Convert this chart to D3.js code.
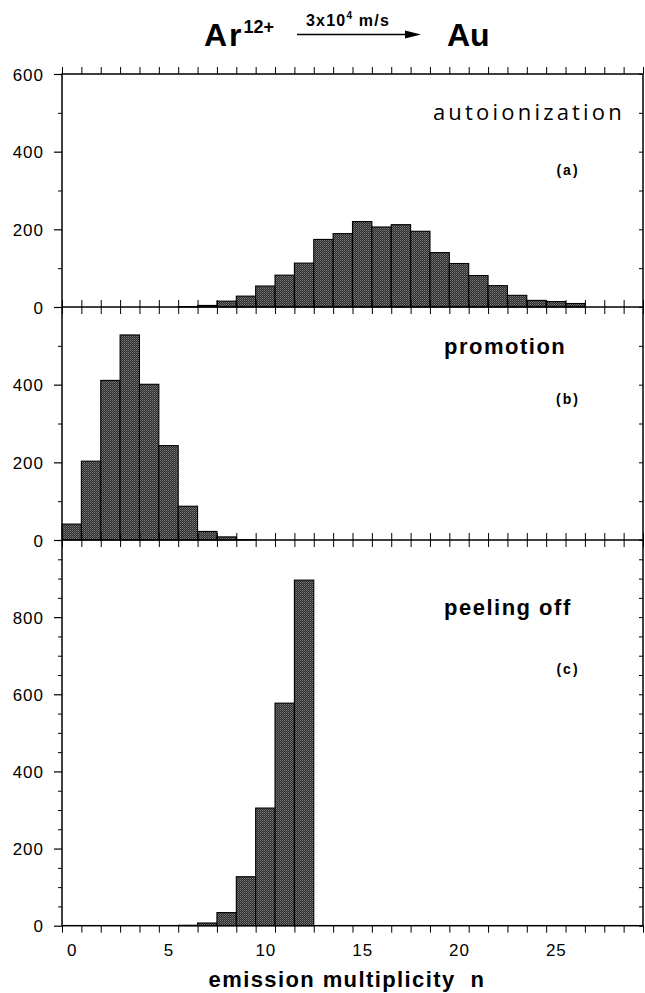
<!DOCTYPE html>
<html>
<head>
<meta charset="utf-8">
<script src="https://cdn.jsdelivr.net/npm/d3@7"></script>
<style>
  html, body { margin: 0; padding: 0; background: #fff; }
  svg { display: block; }
  text { font-family: "Liberation Sans", Arial, Helvetica, sans-serif; fill: #000; }
</style>
</head>
<body>
<script>
// ---------------- data ----------------
const multiplicity = d3.range(0, 30);              // emission multiplicity n
const autoionization = [0,0,0,0,0,0,1,4,15,28,54,82,113,174,189,220,206,212,195,140,112,81,55,30,17,14,9];
const promotion = [41,203,411,528,401,243,87,22,8,1];
const peelingOff = [0,0,0,0,0,0,1,7,34,127,305,577,896];
const xTickLabels = [0,5,10,15,20,25];
const panelNames = ["autoionization","promotion","peeling off"];
const panelTags = ["(a)","(b)","(c)"];
const yMaxes = [600, 600, 1000];
const yLabelTicks = [[0,200,400,600],[0,200,400],[0,200,400,600,800]];
const yMinorSteps = [100, 100, 50];

// ---------------- layout ----------------
const W = 645, H = 993;
const L = 62, R = 643;
const panelTops = [74, 307, 540];
const panelBottoms = [307, 540, 925.7];

const svg = d3.select("body").append("svg").attr("width", W).attr("height", H);

const defs = svg.append("defs");
const pat = defs.append("pattern").attr("id","stip").attr("patternUnits","userSpaceOnUse")
  .attr("width",2).attr("height",2);
pat.append("rect").attr("width",2).attr("height",2).attr("fill","#2e2e2e");
pat.append("rect").attr("x",0).attr("y",0).attr("width",1).attr("height",1).attr("fill","#7a7a7a");
pat.append("rect").attr("x",1).attr("y",1).attr("width",1).attr("height",1).attr("fill","#5a5a5a");

const x = d3.scaleLinear().domain([-0.5, 29.5]).range([L, R]);
const edges = d3.range(-0.5, 29.6, 1);

const series = [autoionization, promotion, peelingOff];

series.forEach((vals, i) => {
  const y = d3.scaleLinear().domain([0, yMaxes[i]]).range([panelBottoms[i], panelTops[i]]);
  const g = svg.append("g");
  const data = vals.map((v, k) => ({n: multiplicity[k], v})).filter(d => d.v > 0);
  g.selectAll("rect.bar").data(data).join("rect")
    .attr("class","bar")
    .attr("x", d => x(d.n - 0.5))
    .attr("width", d => x(d.n + 0.5) - x(d.n - 0.5))
    .attr("y", d => y(d.v))
    .attr("height", d => y(0) - y(d.v))
    .attr("fill","url(#stip)")
    .attr("stroke","#000").attr("stroke-width",1.1);

  // left axis: major labelled ticks
  const leftMajor = d3.axisLeft(y).tickValues(yLabelTicks[i]).tickSize(8).tickPadding(10)
    .tickFormat(d3.format("d"));
  const la = g.append("g").attr("transform",`translate(${L},0)`).call(leftMajor);
  la.select(".domain").remove();
  la.selectAll("line").attr("stroke","#000").attr("stroke-width",1.2);
  la.selectAll("text").style("font-size","17px").style("letter-spacing","1px")
    .style("font-family","'Liberation Sans', Arial, sans-serif").attr("dy","0.36em");
  // left minor ticks
  const minors = d3.range(0, yMaxes[i] + 0.1, yMinorSteps[i]).filter(v => !yLabelTicks[i].includes(v));
  const lm = g.append("g").attr("transform",`translate(${L},0)`)
    .call(d3.axisLeft(y).tickValues(minors).tickSize(4).tickFormat(""));
  lm.select(".domain").remove();
  lm.selectAll("line").attr("stroke","#000").attr("stroke-width",1);
  // right ticks (inward)
  const allR = d3.range(0, yMaxes[i] + 0.1, yMinorSteps[i]);
  const ra = g.append("g").attr("transform",`translate(${R},0)`)
    .call(d3.axisLeft(y).tickValues(allR).tickSize(-0).tickFormat(""));
  ra.select(".domain").remove();
  ra.selectAll("line").attr("x1",0).attr("x2",-4).attr("stroke","#000").attr("stroke-width",1);

  // panel labels
  g.append("text").attr("x", i === 0 ? 625 : 444)
    .attr("y", [120, 354, 615][i])
    .attr("text-anchor", i === 0 ? "end" : "start")
    .style("font-family", i === 0 ? "'Open Sans', 'DejaVu Sans', sans-serif" : "'Liberation Sans', Arial, sans-serif")
    .style("font-size", i === 0 ? "22px" : "22px")
    .style("font-weight", i === 0 ? "normal" : "bold")
    .style("letter-spacing", i === 0 ? "3.2px" : "1.5px")
    .text(panelNames[i]);
  g.append("text").attr("x", 568).attr("y", [175, 404, 674][i])
    .attr("text-anchor","middle")
    .style("font-size","14px").style("font-weight","bold").style("letter-spacing","2px")
    .text(panelTags[i]);
});

// frame
svg.append("rect").attr("x",L).attr("y",panelTops[0]).attr("width",R-L)
  .attr("height",panelBottoms[2]-panelTops[0]).attr("fill","none")
  .attr("stroke","#000").attr("stroke-width",1.5);
[307, 540].forEach(yy => svg.append("line").attr("x1",L).attr("x2",R).attr("y1",yy).attr("y2",yy)
  .attr("stroke","#000").attr("stroke-width",1.5));

// x edge ticks
const topAx = svg.append("g").attr("transform",`translate(0,${panelTops[0]})`)
  .call(d3.axisTop(x).tickValues(edges).tickSize(7).tickFormat(""));
topAx.select(".domain").remove();
[307, 540].forEach(yy => {
  const a = svg.append("g").attr("transform",`translate(0,${yy})`)
    .call(d3.axisBottom(x).tickValues(edges).tickSize(7).tickFormat(""));
  a.select(".domain").remove();
  a.selectAll("line").attr("y1",-7);
});
const botAx = svg.append("g").attr("transform",`translate(0,${panelBottoms[2]})`)
  .call(d3.axisBottom(x).tickValues(edges).tickSize(7).tickFormat(""));
botAx.select(".domain").remove();
svg.selectAll(".tick line").attr("stroke","#000");

// x labels
const xl = svg.append("g").attr("transform",`translate(0,${panelBottoms[2]})`)
  .call(d3.axisBottom(x).tickValues(xTickLabels).tickSize(0).tickPadding(18));
xl.select(".domain").remove();
xl.selectAll("text").style("font-size","17px").style("letter-spacing","1px")
  .style("font-family","'Liberation Sans', Arial, sans-serif");

svg.append("text").attr("x", 347).attr("y", 987).attr("text-anchor","middle")
  .style("font-size","22px").style("font-weight","bold").style("letter-spacing","1.4px")
  .attr("xml:space","preserve").style("white-space","pre")
  .text("emission multiplicity  n");

// title
const title = svg.append("text").attr("x", 204).attr("y", 46)
  .style("font-weight","bold");
title.append("tspan").style("font-size","32px").style("letter-spacing","2px").text("Ar");
title.append("tspan").style("font-size","18px").attr("dy",-13).text("12+");
svg.append("text").attr("x", 447).attr("y", 46).style("font-weight","bold")
  .style("font-size","32px").text("Au");
const sub = svg.append("text").attr("x", 306).attr("y", 26).style("font-weight","bold")
  .style("font-size","16px").style("letter-spacing","1.2px");
sub.append("tspan").text("3x10");
sub.append("tspan").style("font-size","10px").attr("dy",-7).text("4");
sub.append("tspan").attr("dy",7).attr("xml:space","preserve").text(" m/s");
svg.append("line").attr("x1",297).attr("x2",412).attr("y1",34.5).attr("y2",34.5)
  .attr("stroke","#000").attr("stroke-width",1.3);
svg.append("path").attr("d","M405,30.5 L421,34.5 L405,38.5 Z").attr("fill","#000");
</script>
</body>
</html>
